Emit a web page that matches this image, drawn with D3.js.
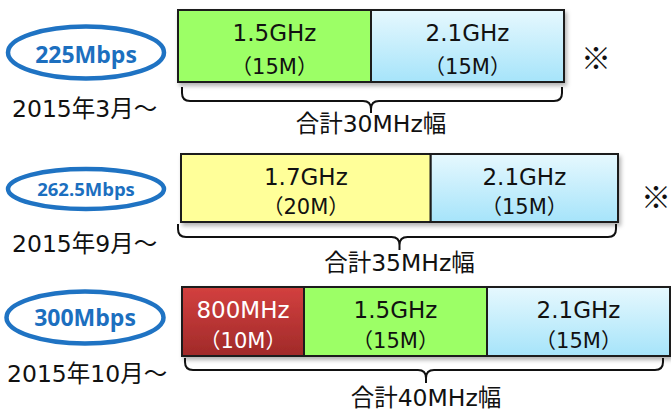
<!DOCTYPE html>
<html>
<head>
<meta charset="utf-8">
<script src="https://cdn.jsdelivr.net/npm/d3@7"></script>
<style>
  html, body { margin: 0; padding: 0; background: #fff; }
  svg { display: block; }
</style>
</head>
<body>
<script>
// Carrier aggregation steps: peak speed, start month and the bands combined
const speeds = ["225Mbps", "262.5Mbps", "300Mbps"];
const periods = ["2015年3月～", "2015年9月～", "2015年10月～"];
const bandNames = [["1.5GHz", "2.1GHz"], ["1.7GHz", "2.1GHz"], ["800MHz", "1.5GHz", "2.1GHz"]];
const bandWidths = [[15, 15], [20, 15], [10, 15, 15]];
const notes = ["※", "※", ""];

const W = 671, H = 413;
const latin = "'DejaVu Sans', 'Noto Sans CJK JP', sans-serif";
const cjk = "'DejaVu Sans', 'Noto Sans CJK JP', sans-serif";

// Row layout (pixels)
const rowLayout = [
  { x0: 178, x1: 564, top: 10,  bottom: 82,  ecx: 86, ecy: 52.5, erx: 78, ery: 26, speedSize: 23, speedBase: 63,  dateX: 12, dateBase: 117, braceL: 182, braceR: 562, braceTop: 87,  braceH: 101, braceTip: 113, totalBase: 132, noteX: 596, noteY: 56 },
  { x0: 181, x1: 618, top: 154, bottom: 222, ecx: 86, ecy: 189,  erx: 78, ery: 20, speedSize: 18.5, speedBase: 196, dateX: 12, dateBase: 252, braceL: 178, braceR: 616, braceTop: 224, braceH: 237, braceTip: 250, totalBase: 271, noteX: 656, noteY: 195 },
  { x0: 182, x1: 670, top: 287, bottom: 356, ecx: 85, ecy: 317.5, erx: 78.5, ery: 26, speedSize: 23, speedBase: 326, dateX: 7, dateBase: 382, braceL: 185, braceR: 663, braceTop: 358, braceH: 370, braceTip: 383, totalBase: 406, noteX: 0, noteY: 0 }
];

const svg = d3.select("body").append("svg").attr("width", W).attr("height", H);
const defs = svg.append("defs");

const shadow = defs.append("filter").attr("id", "shadow")
  .attr("x", "-5%").attr("y", "-10%").attr("width", "115%").attr("height", "140%");
shadow.append("feDropShadow").attr("dx", 2).attr("dy", 3).attr("stdDeviation", 2.2)
  .attr("flood-color", "#000").attr("flood-opacity", 0.3);

function vGrad(id, top, bottom) {
  const g = defs.append("linearGradient").attr("id", id)
    .attr("x1", 0).attr("y1", 0).attr("x2", 0).attr("y2", 1);
  g.append("stop").attr("offset", "0%").attr("stop-color", top);
  g.append("stop").attr("offset", "100%").attr("stop-color", bottom);
}
vGrad("gRed", "#d3403f", "#a02a29");
vGrad("gBlue", "#e6f8fe", "#a6e4fa");

const fill = d3.scaleOrdinal()
  .domain(["800MHz", "1.5GHz", "1.7GHz", "2.1GHz"])
  .range(["url(#gRed)", "#9cff66", "#ffff99", "url(#gBlue)"]);
const textColor = d3.scaleOrdinal()
  .domain(["800MHz", "1.5GHz", "1.7GHz", "2.1GHz"])
  .range(["#ffffff", "#111", "#111", "#111"]);

speeds.forEach((speed, i) => {
  const L = rowLayout[i];
  const widths = bandWidths[i];
  const total = d3.sum(widths);
  const x = d3.scaleLinear().domain([0, total]).range([L.x0, L.x1]);
  const starts = d3.cumsum([0].concat(widths.slice(0, -1)));
  const segs = widths.map((w, j) => ({ name: bandNames[i][j], w, s: starts[j] }));

  const row = svg.append("g");

  // Speed badge
  row.append("ellipse")
    .attr("cx", L.ecx).attr("cy", L.ecy).attr("rx", L.erx).attr("ry", L.ery)
    .attr("fill", "#fff").attr("stroke", "#1f73c3").attr("stroke-width", 4.5);
  row.append("text")
    .attr("x", L.ecx).attr("y", L.speedBase)
    .attr("text-anchor", "middle")
    .style("font-family", "'Open Sans', sans-serif").style("font-weight", 700)
    .style("font-size", L.speedSize + "px").attr("fill", "#1c6fbf")
    .text(speed);

  // Start month
  row.append("text")
    .attr("x", L.dateX).attr("y", L.dateBase)
    .style("font-family", cjk).style("font-size", "23.5px").attr("fill", "#111")
    .text(periods[i]);

  // Band blocks
  const bars = row.append("g").attr("filter", "url(#shadow)");
  bars.selectAll("rect").data(segs).join("rect")
    .attr("x", d => x(d.s)).attr("y", L.top)
    .attr("width", d => x(d.s + d.w) - x(d.s)).attr("height", L.bottom - L.top)
    .attr("fill", d => fill(d.name))
    .attr("stroke", "#1a1a1a").attr("stroke-width", 2);

  row.selectAll("text.band").data(segs).join("text").attr("class", "band")
    .attr("x", d => x(d.s + d.w / 2)).attr("y", L.top + 31)
    .attr("text-anchor", "middle")
    .style("font-family", latin).style("font-size", "23px")
    .attr("fill", d => textColor(d.name))
    .text(d => d.name);

  row.selectAll("text.mhz").data(segs).join("text").attr("class", "mhz")
    .attr("x", d => x(d.s + d.w / 2)).attr("y", L.bottom - 8.5)
    .attr("text-anchor", "middle")
    .style("font-family", cjk).style("font-size", "21px")
    .attr("fill", d => textColor(d.name))
    .text(d => "（" + d.w + "M）");

  // Curly brace under the bar
  const cx = x(total / 2), r = 8, h = L.braceH;
  const p = d3.path();
  p.moveTo(L.braceL, L.braceTop);
  p.lineTo(L.braceL, h - r);
  p.quadraticCurveTo(L.braceL, h, L.braceL + r, h);
  p.lineTo(cx - r, h);
  p.quadraticCurveTo(cx, h, cx, h + r);
  p.lineTo(cx, L.braceTip);
  p.moveTo(cx, h + r);
  p.quadraticCurveTo(cx, h, cx + r, h);
  p.lineTo(L.braceR - r, h);
  p.quadraticCurveTo(L.braceR, h, L.braceR, h - r);
  p.lineTo(L.braceR, L.braceTop);
  row.append("path").attr("d", p.toString())
    .attr("fill", "none").attr("stroke", "#111").attr("stroke-width", 2);

  row.append("text")
    .attr("x", cx).attr("y", L.totalBase)
    .attr("text-anchor", "middle")
    .style("font-family", cjk).style("font-size", "23.5px").attr("fill", "#111")
    .text("合計" + total + "MHz幅");

  if (notes[i]) {
    row.append("text")
      .attr("x", L.noteX).attr("y", L.noteY)
      .attr("text-anchor", "middle").attr("dominant-baseline", "central")
      .style("font-family", "'Noto Sans CJK JP', sans-serif").style("font-size", "30px")
      .attr("fill", "#111")
      .text(notes[i]);
  }
});
</script>
</body>
</html>
